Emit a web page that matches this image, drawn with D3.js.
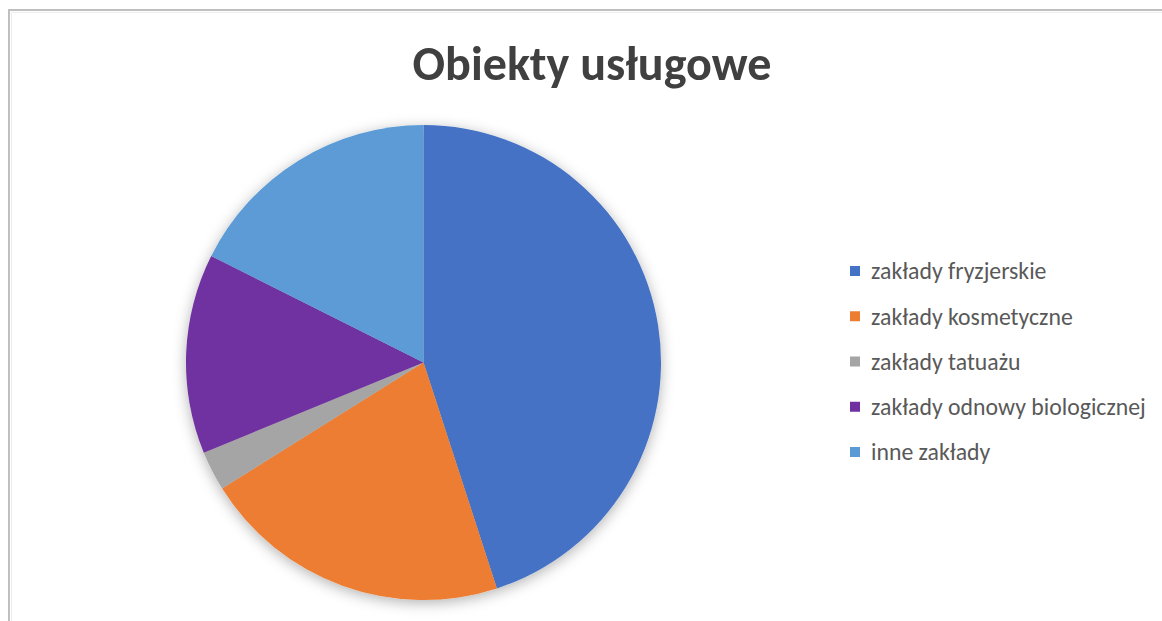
<!DOCTYPE html>
<html>
<head>
<meta charset="utf-8">
<script src="https://cdn.jsdelivr.net/npm/d3@7"></script>
<style>
  html, body { margin: 0; padding: 0; background: #fff; }
  svg { display: block; }
</style>
</head>
<body>
<svg id="chart" width="1162" height="621"></svg>
<script>
// Share of service establishments by type (percent)
const categories = [
  "zakłady fryzjerskie",
  "zakłady kosmetyczne",
  "zakłady tatuażu",
  "zakłady odnowy biologicznej",
  "inne zakłady"
];
const values = [45.0, 21.1, 2.7, 13.6, 17.6];
const colors = ["#4472C4", "#ED7D31", "#A5A5A5", "#7030A0", "#5B9BD5"];
const title = "Obiekty usługowe";

const svg = d3.select("#chart");
const W = 1162, H = 621;

// chart frame (extends past the right and bottom edges)
svg.append("path")
  .attr("d", `M9,${H + 5} V10 H${W + 5}`)
  .attr("fill", "none").attr("stroke", "#bfbfbf").attr("stroke-width", 2);
svg.append("path")
  .attr("d", `M11.5,${H + 5} V12.5 H${W + 5}`)
  .attr("fill", "none").attr("stroke", "#ececec").attr("stroke-width", 1);

// soft shadow under the pie
const defs = svg.append("defs");
const f = defs.append("filter").attr("id", "pieShadow")
  .attr("x", "-20%").attr("y", "-20%").attr("width", "140%").attr("height", "140%");
f.append("feDropShadow")
  .attr("dx", 0).attr("dy", 3).attr("stdDeviation", 7)
  .attr("flood-color", "#000").attr("flood-opacity", 0.3);

// fit a text element's font size to a target width
function fitWidth(sel, target) {
  sel.attr("font-size", 100);
  const w = sel.node().getComputedTextLength();
  sel.attr("font-size", 100 * target / w);
}

// title
const t = svg.append("text")
  .attr("x", 592).attr("y", 80)
  .attr("text-anchor", "middle")
  .attr("font-family", "Carlito, 'Open Sans', 'Noto Sans', sans-serif")
  .attr("font-weight", "bold")
  .attr("fill", "#404040")
  .text(title);
fitWidth(t, 359);

// pie
const cx = 423.5, cy = 362.5, R = 237.5;
const pie = d3.pie().sort(null).value(d => d.value)
  .startAngle(0).endAngle(2 * Math.PI);
const arc = d3.arc().innerRadius(0).outerRadius(R);
const data = categories.map((c, i) => ({ name: c, value: values[i], color: colors[i] }));

const g = svg.append("g")
  .attr("transform", `translate(${cx},${cy})`)
  .attr("filter", "url(#pieShadow)");
g.selectAll("path").data(pie(data)).join("path")
  .attr("d", arc)
  .attr("fill", d => d.data.color);

// legend
const yPos = d3.scalePoint().domain(categories).range([271, 452]);
const lg = svg.append("g");
const items = lg.selectAll("g").data(data).join("g")
  .attr("transform", d => `translate(850,${yPos(d.name)})`);
items.append("rect")
  .attr("x", 0).attr("y", -5).attr("width", 10).attr("height", 10)
  .attr("fill", d => d.color);
const labels = items.append("text")
  .attr("x", 21).attr("y", 0)
  .attr("dy", "0.35em")
  .attr("font-family", "Carlito, 'Open Sans', 'Noto Sans', sans-serif")
  .attr("fill", "#595959")
  .text(d => d.name);
// size legend text so the longest label spans the same width
const longest = labels.filter(d => d.name === "zakłady odnowy biologicznej");
longest.attr("font-size", 100);
const lw = longest.node().getComputedTextLength();
labels.attr("font-size", 100 * 275 / lw);
</script>
</body>
</html>
